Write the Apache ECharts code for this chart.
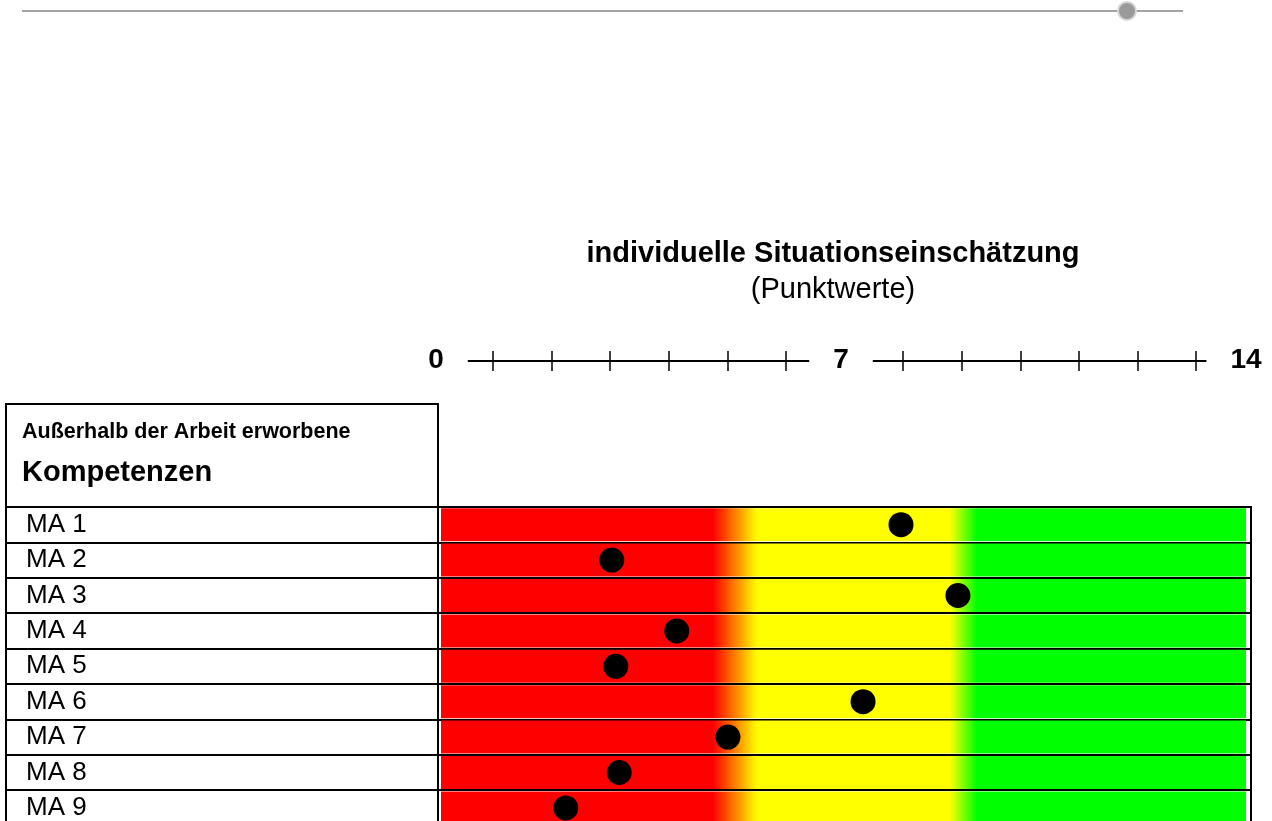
<!DOCTYPE html>
<html>
<head>
<meta charset="utf-8">
<script src="https://cdn.jsdelivr.net/npm/echarts@6/dist/echarts.min.js"></script>
<style>
html,body{margin:0;padding:0;background:#fff;}
#chart{width:1272px;height:821px;}
</style>
</head>
<body>
<div id="chart"></div>
<script>
// ---- data ----
var categories = ['MA 1','MA 2','MA 3','MA 4','MA 5','MA 6','MA 7','MA 8','MA 9'];
var scores = [8.0, 2.97, 8.99, 4.1, 3.04, 7.34, 4.99, 3.1, 2.17];
var scaleMax = 14;
var scaleLabels = [0, 7, 14];
var scaleTicks = [1, 2, 3, 4, 5, 6, 8, 9, 10, 11, 12, 13];
// zone boundaries on the 0-14 scale: red end, yellow start, yellow end, green start
var zoneBounds = [4.73, 5.5, 8.85, 9.32];
var titleText = 'individuelle Situationseinschätzung';
var subtitleText = '(Punktwerte)';
var headerSmall = 'Außerhalb der Arbeit erworbene';
var headerBig = 'Kompetenzen';

var FONT = 'Liberation Sans, Arial, sans-serif';
var chart = echarts.init(document.getElementById('chart'), null, {renderer: 'canvas'});

var rowH = 35.4;
var rowsTop = 507;
var rowsH = rowH * categories.length;

var bandData = categories.map(function () { return scaleMax; });
var dotData = scores.map(function (v, i) { return [v, categories[i]]; });

var gradient = new echarts.graphic.LinearGradient(0, 0, 1, 0, [
  {offset: 0, color: '#ff0000'},
  {offset: zoneBounds[0] / scaleMax, color: '#ff0000'},
  {offset: zoneBounds[1] / scaleMax, color: '#ffff00'},
  {offset: zoneBounds[2] / scaleMax, color: '#ffff00'},
  {offset: zoneBounds[3] / scaleMax, color: '#00ff00'},
  {offset: 1, color: '#00ff00'}
]);

// px per unit in the band grid: 0 at x=441, 14 at x=1246
var ppu = (1246 - 441) / scaleMax;
// tick marks of the printed scale sit on a slightly wider mapping (0 at 434.4, 14 at 1254.8)
var tickPpu = (1254.8 - 434.4) / scaleMax;
var tickMin = (436 - 434.4) / tickPpu;
var tickMax = scaleMax - (1254.8 - 1246) / tickPpu;

var option = {
  animation: false,
  backgroundColor: '#fff',
  textStyle: {fontFamily: FONT},
  title: [
    {text: titleText, left: 833, top: 254, textAlign: 'center', textVerticalAlign: 'middle', padding: 0,
     textStyle: {fontFamily: FONT, fontSize: 29, fontWeight: 'bold', color: '#000'}},
    {text: subtitleText, left: 833, top: 290, textAlign: 'center', textVerticalAlign: 'middle', padding: 0,
     textStyle: {fontFamily: FONT, fontSize: 29, fontWeight: 'normal', color: '#000'}},
    {text: headerSmall, left: 22, top: 432, textVerticalAlign: 'middle', padding: 0,
     textStyle: {fontFamily: FONT, fontSize: 21.5, fontWeight: 'bold', color: '#000'}},
    {text: headerBig, left: 22, top: 473, textVerticalAlign: 'middle', padding: 0,
     textStyle: {fontFamily: FONT, fontSize: 29, fontWeight: 'bold', color: '#000'}}
  ],
  graphic: [
    {type: 'line', shape: {x1: 22, y1: 11, x2: 1183, y2: 11}, style: {stroke: '#a3a3a3', lineWidth: 2}, z: 1},
    {type: 'circle', shape: {cx: 1127, cy: 11, r: 9}, style: {fill: '#9a9a9a', stroke: '#d6d6d6', lineWidth: 2}, z: 2}
  ],
  grid: [
    // 0: header box
    {left: 6, top: 404, width: 432, height: rowsTop - 404, show: true, borderColor: '#000', borderWidth: 2, backgroundColor: 'transparent', outerBoundsMode: 'none'},
    // 1: row labels
    {left: 6, top: rowsTop, width: 432, height: rowsH, show: true, borderColor: '#000', borderWidth: 2, backgroundColor: 'transparent', outerBoundsMode: 'none'},
    // 2: band rows
    {left: 438, top: rowsTop, width: 813, height: rowsH, show: true, borderColor: '#000', borderWidth: 2, backgroundColor: 'transparent', outerBoundsMode: 'none'},
    // 3: top scale ticks
    {left: 436, top: 360, width: 810, height: 1, show: false, outerBoundsMode: 'none'},
    // 4: top scale line + labels
    {left: 436, top: 360, width: 810, height: 1, show: false, outerBoundsMode: 'none'}
  ],
  xAxis: [
    {gridIndex: 0, type: 'value', show: false, min: 0, max: 1},
    {gridIndex: 1, type: 'value', show: false, min: 0, max: 1},
    {gridIndex: 2, type: 'value', show: false, min: -3 / ppu, max: scaleMax + 5 / ppu},
    {gridIndex: 3, type: 'value', position: 'top', min: tickMin, max: tickMax,
     axisLine: {show: false}, splitLine: {show: false}, axisLabel: {show: false},
     axisTick: {show: true, length: 10, lineStyle: {color: '#000', width: 1.5}, customValues: scaleTicks}},
    {gridIndex: 3, type: 'value', position: 'bottom', min: tickMin, max: tickMax,
     axisLine: {show: false}, splitLine: {show: false}, axisLabel: {show: false},
     axisTick: {show: true, length: 10, lineStyle: {color: '#000', width: 1.5}, customValues: scaleTicks}},
    {gridIndex: 4, type: 'value', position: 'bottom', min: 0, max: scaleMax,
     axisLine: {show: true, lineStyle: {color: '#000', width: 2}},
     splitLine: {show: false},
     axisTick: {show: false},
     axisLabel: {show: true, customValues: scaleLabels, margin: -1, verticalAlign: 'middle',
       fontFamily: FONT, fontSize: 28, fontWeight: 'bold', color: '#000',
       backgroundColor: '#fff', padding: [6, 24]}}
  ],
  yAxis: [
    {gridIndex: 0, type: 'value', show: false, min: 0, max: 1},
    {gridIndex: 1, type: 'category', data: categories, inverse: true,
     axisLine: {show: false}, axisTick: {show: false},
     axisLabel: {inside: true, margin: 20, fontFamily: FONT, fontSize: 26, color: '#000'},
     splitLine: {show: true, lineStyle: {color: '#000', width: 2}}},
    {gridIndex: 2, type: 'category', data: categories, inverse: true,
     axisLine: {show: false}, axisTick: {show: false}, axisLabel: {show: false},
     splitLine: {show: true, lineStyle: {color: '#000', width: 2}}},
    {gridIndex: 3, type: 'value', show: false, min: 0, max: 1},
    {gridIndex: 4, type: 'value', show: false, min: 0, max: 1}
  ],
  series: [
    {type: 'bar', xAxisIndex: 2, yAxisIndex: 2, data: bandData, barWidth: 33,
     itemStyle: {color: gradient}, silent: true, z: 1},
    {type: 'scatter', xAxisIndex: 2, yAxisIndex: 2, data: dotData, symbol: 'circle', symbolSize: 25,
     itemStyle: {color: '#000', opacity: 1}, z: 5}
  ]
};
chart.setOption(option);
</script>
</body>
</html>
